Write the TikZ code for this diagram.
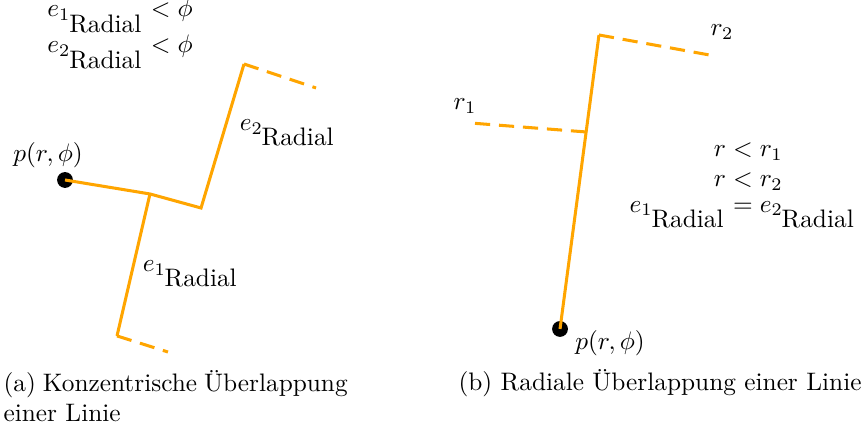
\documentclass[tikz,border=0pt]{standalone}
\usepackage{amsmath,amssymb}
\usepackage{tikz}
\usetikzlibrary{positioning,calc}
\definecolor{lineorange}{HTML}{FFA500}
\newcommand{\eRad}[1]{e_{#1_{\hbox{Radial}}}}

\begin{document}
\begin{tikzpicture}
\tikzstyle{edge}=[lineorange,line width=1.2pt,line join=miter]
\tikzstyle{ext}=[edge,dash pattern=on 6pt off 3.5pt]
\tikzstyle{pt}=[circle,fill=black,inner sep=0pt,minimum size=0.22cm]
\useasboundingbox (0,0) rectangle (11.986,5.972);
% (a) konzentrisch
\node[pt] (pa) at (0.903,3.472) {};
\coordinate (ja) at (2.083,3.278);
\coordinate (ca) at (2.792,3.083);
\coordinate (ta) at (3.389,5.083);
\coordinate (da) at (4.389,4.75);
\coordinate (ba) at (1.625,1.306);
\coordinate (db) at (2.333,1.083);
\draw[edge] (pa.center) -- (ja) -- (ca) -- (ta);
\draw[ext] (ta) -- (da);
\draw[edge] (ja) -- (ba);
\draw[ext] (ba) -- (db);
\node (lpa) at (0.667,3.819) {$p(r,\phi)$};
\node (le2) at (4.0,4.125) {$\eRad2$};
\node (le1) at (2.653,2.167) {$\eRad1$};
\node[align=center] (conda) at (1.667,5.5) {$\eRad1<\phi$\\$\eRad2<\phi$};
\node[anchor=north west,text width=4.78cm,align=justify,inner sep=0pt] (capa) at (0.042,0.84)
  {(a) Konzentrische Überlappung einer Linie};
% (b) radial
\node[pt] (pb) at (7.778,1.403) {};
\coordinate (jb) at (8.139,4.139);
\coordinate (tb) at (8.319,5.486);
\coordinate (dc) at (9.931,5.194);
\coordinate (dd) at (6.528,4.264);
\draw[edge] (pb.center) -- (tb);
\draw[ext] (tb) -- (dc);
\draw[ext] (jb) -- (dd);
\node (lr1) at (6.458,4.5) {$r_1$};
\node (lr2) at (10.028,5.528) {$r_2$};
\node (lpb) at (8.472,1.208) {$p(r,\phi)$};
\node (condb) at (10.319,3.45) {$\begin{aligned} r &< r_1\\[-3pt] r &< r_2\\[-5pt] \eRad1 &= \eRad2\end{aligned}$};
\node (capb) at (9.167,0.653) {(b) Radiale Überlappung einer Linie};
\end{tikzpicture}
\end{document}
